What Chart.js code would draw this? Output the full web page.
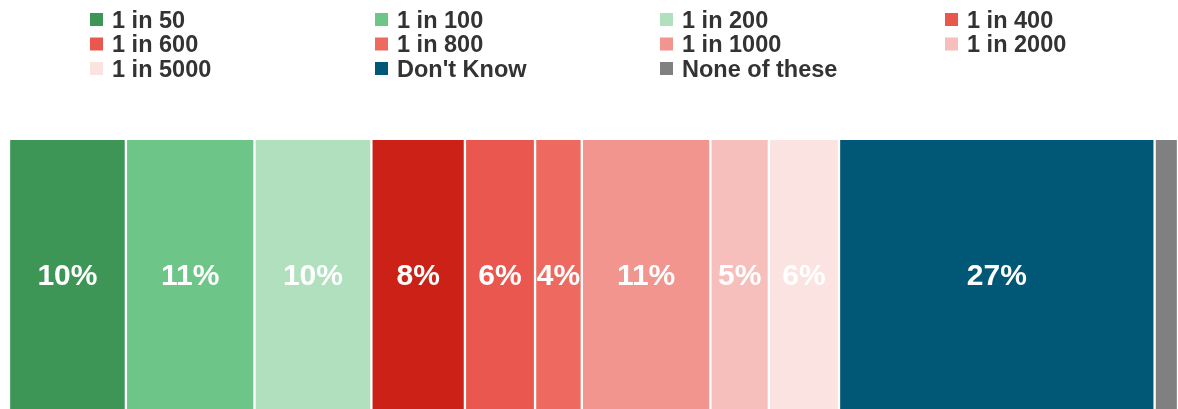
<!DOCTYPE html>
<html>
<head>
<meta charset="utf-8">
<script src="https://cdn.jsdelivr.net/npm/chart.js@4"></script>
<style>
  html, body { margin: 0; padding: 0; background: #fff; }
  #wrap { position: relative; width: 1178px; height: 409px; }
</style>
</head>
<body>
<div id="wrap"><canvas id="myChart"></canvas></div>
<script>
const categories = ['1 in 50', '1 in 100', '1 in 200', '1 in 400', '1 in 600', '1 in 800',
    '1 in 1000', '1 in 2000', '1 in 5000', "Don't Know", 'None of these'];
const values = [10, 11, 10, 8, 6, 4, 11, 5, 6, 27, 2];
const barColors = ['#3d9656', '#6dc688', '#b1e0bf', '#cb2116', '#e9574f', '#ee6a60',
    '#f2958f', '#f6bfbc', '#fbe3e1', '#015876', '#808080'];
const legendColors = ['#3d9656', '#6dc688', '#b1e0bf', '#e9564c', '#e9574f', '#ee6a60',
    '#f2958f', '#f6bfbc', '#fbe3e1', '#015876', '#808080'];

const fontFamily = '"Liberation Sans", Arial, sans-serif';

// legend drawn in a 4 column grid above the bar
const gridLegend = {
    id: 'gridLegend',
    afterDraw(chart) {
        const c = chart.ctx;
        c.save();
        c.font = 'bold 23.5px ' + fontFamily;
        c.textBaseline = 'middle';
        chart.data.datasets.forEach((ds, i) => {
            const col = i % 4, row = Math.floor(i / 4);
            const x = 90 + col * 285;
            const y = 20 + row * 24.5;
            c.fillStyle = legendColors[i];
            c.fillRect(x, y - 7, 13, 13);
            c.fillStyle = '#333333';
            c.fillText(ds.label, x + 22, y + 1.5);
        });
        c.restore();
    }
};

// percent labels in the middle of each segment
const segLabels = {
    id: 'segLabels',
    afterDatasetsDraw(chart) {
        const c = chart.ctx;
        c.save();
        c.font = 'bold 30px ' + fontFamily;
        c.fillStyle = '#ffffff';
        c.textAlign = 'center';
        c.textBaseline = 'middle';
        chart.data.datasets.forEach((ds, i) => {
            const v = ds.data[0];
            if (v < 3) return;
            const el = chart.getDatasetMeta(i).data[0];
            const cx = (el.x + el.base) / 2;
            c.fillText(v + '%', cx, el.y + 2);
        });
        c.restore();
    }
};

const ctx = document.getElementById('myChart').getContext('2d');
const myChart = new Chart(ctx, {
    type: 'bar',
    data: {
        labels: [''],
        datasets: categories.map((name, i) => ({
            label: name,
            data: [values[i]],
            backgroundColor: barColors[i],
            borderColor: '#ffffff',
            borderWidth: { left: 1.5, right: 1.5, top: 0, bottom: 0 },
            borderSkipped: false,
            barPercentage: 1,
            categoryPercentage: 1
        }))
    },
    options: {
        indexAxis: 'y',
        responsive: true,
        maintainAspectRatio: false,
        animation: false,
        layout: { padding: { left: 9, right: 0, top: 140, bottom: 0 } },
        plugins: {
            legend: { display: false },
            tooltip: { enabled: false }
        },
        scales: {
            x: { stacked: true, display: false, min: 0, max: 100 },
            y: { stacked: true, display: false }
        }
    },
    plugins: [gridLegend, segLabels]
});
</script>
</body>
</html>
